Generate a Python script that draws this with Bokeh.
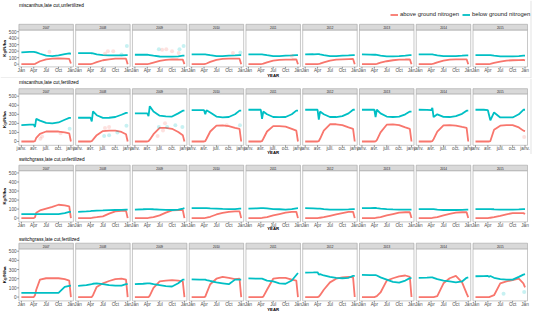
import math
from bokeh.plotting import figure
from bokeh.layouts import column
from bokeh.models import ColumnDataSource, Legend, LegendItem, Range1d
from bokeh.core.properties import value
from bokeh.embed import file_html
from bokeh.resources import INLINE

# ---------------- data ----------------
YEARS = [2007, 2008, 2009, 2010, 2011, 2012, 2013, 2014, 2015]
MONTHS = [0, 2, 3, 3.3, 3.6, 4.5, 6, 7.5, 9, 10.5, 11.6, 12]
TICK_MONTHS = [0, 3, 6, 9, 12]
TICKS_EN = ["Jan", "Apr", "Jul", "Oct", "Jan"]
TICKS_FR = ["janv.", "avr.", "juil.", "oct.", "janv."]
Y_TICKS = [0, 100, 200, 300, 400, 500]
TITLES = ["miscanthus,late cut,unfertilized", "miscanthus,late cut,fertilized",
          "switchgrass,late cut,unfertilized", "switchgrass,late cut,fertilized"]
SERIES = ["above ground nitrogen", "below ground nitrogen"]
X_LABEL = "YEAR"
Y_LABEL = "Kg/N/ha"

# miscanthus, late cut, unfertilized
MUF_ABOVE = [
    [0, 0, 0, 5, 15, 45, 75, 85, 90, 85, 80, 10],
    [0, 0, 0, 3, 10, 30, 60, 75, 85, 85, 85, 0],
    [0, 0, 0, 3, 8, 25, 50, 65, 75, 72, 70, 0],
    [0, 0, 0, 3, 10, 35, 65, 80, 85, 85, 85, 0],
    [0, 0, 0, 3, 8, 28, 55, 65, 70, 72, 75, 0],
    [0, 0, 0, 3, 8, 28, 55, 70, 75, 78, 80, 0],
    [0, 0, 0, 2, 6, 22, 45, 60, 70, 72, 75, 0],
    [0, 0, 0, 3, 8, 28, 55, 70, 75, 75, 75, 0],
    [0, 0, 0, 2, 6, 20, 40, 55, 60, 63, 65, 60],
]
MUF_BELOW = [
    [180, 190, 190, 185, 180, 160, 130, 125, 135, 155, 165, 160],
    [170, 170, 170, 168, 165, 150, 140, 135, 135, 135, 140, 140],
    [145, 145, 145, 143, 140, 130, 118, 115, 115, 120, 130, 130],
    [150, 150, 150, 150, 148, 138, 125, 125, 130, 135, 140, 140],
    [150, 150, 150, 150, 148, 138, 125, 125, 130, 135, 140, 140],
    [150, 152, 155, 155, 150, 140, 125, 125, 130, 135, 140, 140],
    [150, 148, 145, 145, 142, 132, 120, 120, 125, 132, 140, 140],
    [150, 150, 150, 150, 145, 135, 125, 125, 125, 130, 135, 135],
    [140, 140, 140, 140, 138, 130, 120, 120, 120, 125, 130, 130],
]
MUF_OBS_YEAR = [2007, 2008, 2008, 2008, 2008, 2008, 2009, 2009, 2009, 2009, 2009, 2009, 2009, 2010, 2010, 2011]
MUF_OBS_MONTH = [6.8, 6.5, 7.2, 8.5, 10.5, 11.8, 5.8, 10.8, 11.8, 6.6, 7.6, 9.0, 10.6, 10.0, 11.8, 10.5]
MUF_OBS_VALUE = [190, 160, 200, 200, 150, 280, 230, 230, 280, 220, 230, 200, 170, 170, 180, 130]
MUF_OBS_KIND = ["above", "above", "above", "above", "below", "below", "below", "below", "below",
                "above", "above", "above", "above", "above", "below", "above"]

# miscanthus, late cut, fertilized
MF_ABOVE = [
    [0, 0, 0, 5, 40, 85, 110, 110, 110, 100, 90, 0],
    [0, 0, 0, 5, 20, 70, 115, 120, 120, 105, 80, 0],
    [0, 0, 0, 5, 20, 80, 150, 150, 140, 105, 70, 0],
    [0, 0, 0, 5, 30, 110, 175, 177, 170, 150, 140, 0],
    [0, 0, 0, 5, 30, 110, 170, 170, 165, 140, 120, 0],
    [0, 0, 0, 5, 30, 120, 190, 190, 180, 155, 140, 0],
    [0, 0, 0, 2, 15, 100, 185, 188, 180, 155, 140, 0],
    [0, 0, 0, 5, 25, 110, 178, 180, 175, 160, 150, 0],
    [0, 0, 0, 0, 5, 130, 175, 180, 180, 155, 120, 115],
]
MF_BELOW = [
    [180, 185, 187, 160, 250, 230, 205, 200, 210, 240, 260, 260],
    [262, 262, 262, 222, 333, 290, 260, 262, 270, 295, 315, 315],
    [310, 310, 310, 280, 390, 330, 285, 278, 275, 310, 340, 340],
    [345, 345, 345, 300, 345, 320, 275, 265, 270, 300, 340, 340],
    [350, 350, 350, 250, 330, 300, 270, 268, 270, 300, 340, 340],
    [350, 350, 350, 240, 330, 300, 270, 270, 280, 310, 350, 350],
    [350, 350, 350, 270, 350, 310, 275, 270, 275, 300, 330, 330],
    [350, 348, 345, 370, 270, 300, 272, 270, 280, 305, 340, 340],
    [350, 350, 345, 290, 233, 320, 265, 265, 265, 300, 350, 350],
]
MF_OBS_YEAR = [2007, 2007, 2007, 2007, 2008, 2008, 2008, 2008, 2008, 2008,
               2009, 2009, 2009, 2009, 2009, 2009, 2009, 2010, 2010, 2015]
MF_OBS_MONTH = [4.6, 5.0, 9.5, 11.7, 6.5, 7.5, 6.3, 7.5, 9.5, 11.7,
                5.8, 7.8, 9.8, 11.5, 6.8, 7.3, 5.5, 8.5, 11.7, 11.8]
MF_OBS_VALUE = [30, 55, 90, 140, 150, 160, 60, 70, 100, 175,
                160, 160, 180, 160, 120, 200, 60, 180, 180, 50]
MF_OBS_KIND = ["above", "above", "above", "below", "above", "above", "below", "below", "below", "below",
               "below", "below", "below", "below", "above", "above", "above", "above", "below", "above"]

# switchgrass, late cut, unfertilized
SUF_ABOVE = [
    [0, 0, 0, 10, 60, 85, 105, 125, 148, 140, 130, 0],
    [0, 0, 0, 2, 5, 10, 20, 50, 75, 80, 80, 0],
    [0, 0, 0, 2, 5, 10, 30, 60, 85, 90, 90, 0],
    [0, 0, 0, 2, 5, 15, 40, 58, 70, 75, 75, 0],
    [0, 0, 0, 2, 5, 12, 30, 45, 60, 68, 70, 0],
    [0, 0, 0, 2, 4, 10, 25, 40, 55, 68, 70, 0],
    [0, 0, 0, 2, 5, 12, 30, 45, 60, 65, 65, 0],
    [0, 0, 0, 2, 5, 12, 30, 48, 60, 65, 65, 0],
    [0, 0, 0, 2, 4, 10, 25, 42, 55, 55, 55, 45],
]
SUF_BELOW = [
    [45, 45, 45, 45, 45, 45, 45, 45, 45, 55, 68, 70],
    [70, 75, 78, 80, 80, 83, 85, 88, 90, 92, 95, 95],
    [95, 98, 100, 100, 100, 98, 95, 92, 90, 95, 105, 110],
    [110, 110, 110, 110, 110, 108, 105, 102, 100, 100, 105, 105],
    [105, 108, 110, 110, 110, 108, 100, 98, 95, 100, 108, 110],
    [110, 108, 105, 105, 105, 100, 95, 95, 95, 97, 100, 100],
    [110, 111, 112, 112, 110, 105, 100, 97, 95, 95, 95, 95],
    [100, 100, 100, 100, 100, 95, 90, 90, 90, 92, 95, 95],
    [100, 100, 100, 100, 100, 98, 95, 95, 95, 97, 100, 100],
]
SUF_OBS_YEAR = []
SUF_OBS_MONTH = []
SUF_OBS_VALUE = []
SUF_OBS_KIND = []

# switchgrass, late cut, fertilized
SF_ABOVE = [
    [0, 0, 0, 20, 80, 190, 205, 205, 205, 195, 180, 0],
    [0, 0, 0, 0, 20, 110, 150, 175, 195, 200, 190, 0],
    [0, 0, 0, 0, 15, 100, 170, 180, 185, 180, 170, 0],
    [0, 0, 0, 5, 40, 140, 200, 220, 210, 195, 200, 0],
    [0, 0, 0, 0, 5, 80, 200, 210, 210, 190, 180, 0],
    [0, 0, 0, 5, 20, 80, 160, 200, 215, 220, 215, 0],
    [0, 0, 0, 5, 10, 50, 180, 205, 225, 235, 220, 0],
    [0, 0, 0, 0, 0, 10, 150, 205, 230, 160, 40, 0],
    [0, 0, 0, 0, 5, 20, 150, 170, 185, 200, 150, 105],
]
SF_BELOW = [
    [45, 45, 45, 45, 45, 45, 45, 45, 45, 110, 122, 125],
    [122, 130, 138, 140, 145, 150, 140, 130, 125, 125, 140, 140],
    [140, 145, 150, 150, 150, 140, 130, 120, 115, 150, 190, 190],
    [192, 190, 190, 190, 185, 175, 160, 150, 140, 190, 190, 190],
    [203, 200, 200, 200, 195, 180, 170, 150, 145, 180, 240, 262],
    [266, 268, 270, 245, 250, 235, 220, 210, 205, 210, 230, 230],
    [241, 240, 240, 240, 235, 215, 190, 165, 157, 180, 206, 206],
    [210, 212, 215, 215, 210, 195, 180, 170, 160, 170, 210, 215],
    [227, 228, 230, 220, 230, 210, 195, 190, 190, 220, 245, 250],
]
SF_OBS_YEAR = [2015, 2015]
SF_OBS_MONTH = [6.8, 11.8]
SF_OBS_VALUE = [35, 55]
SF_OBS_KIND = ["below", "below"]

# ---------------- styling / layout ----------------
RED = "#F8766D"
CYAN = "#00BFC4"
FONT = "Liberation Sans"
BORDER = "#a3a3a3"
FRAME_LINE = "#e3e3e3"
PITCH = 13.75          # spacing between yearly facets, in month units
XPAD = 0.6             # facet expansion, in month units
Y0, Y1 = -42, 525      # facet y limits
W = 534
PANEL_L_PX, PANEL_R_PX = 18.4, 527.0
UX = (8 * PITCH + 12 + 2 * XPAD) / (PANEL_R_PX - PANEL_L_PX)
X_START = -XPAD - PANEL_L_PX * UX
X_END = X_START + W * UX


def xd(px):
    return X_START + px * UX


def make_block(title, above, below, obs, tick_labels, H, pt, pb, title_py, strip_h,
               xlab_py, year_py, legend_py=None, frame_right=False, frame_bottom=False):
    uy = (Y1 - Y0) / (pb - pt)
    y_end = Y1 + pt * uy
    y_start = y_end - H * uy

    def yd(py):
        return y_end - py * uy

    p = figure(width=W, height=H, output_backend="svg", toolbar_location=None,
               x_range=Range1d(X_START, X_END), y_range=Range1d(y_start, y_end),
               x_axis_location=None, y_axis_location=None, min_border=0)
    p.outline_line_color = None
    p.grid.visible = False
    p.background_fill_color = "white"
    p.border_fill_color = "white"

    # faint outline of the original sub-image
    if frame_right:
        p.segment(x0=[xd(530.5)], x1=[xd(530.5)], y0=[y_start], y1=[y_end],
                  line_color=FRAME_LINE, line_width=1)
    if frame_bottom:
        p.segment(x0=[X_START], x1=[xd(530.5)], y0=[yd(H - 0.6)], y1=[yd(H - 0.6)],
                  line_color=FRAME_LINE, line_width=1)

    offs = [k * PITCH for k in range(len(YEARS))]
    lefts = [o - XPAD for o in offs]
    rights = [o + 12 + XPAD for o in offs]
    # panels and strips
    p.quad(left=lefts, right=rights, bottom=Y0, top=Y1, fill_color="white",
           line_color=BORDER, line_width=0.6)
    strip_top = yd(pt - strip_h)
    p.quad(left=lefts, right=rights, bottom=Y1, top=strip_top, fill_color="#d9d9d9",
           line_color=BORDER, line_width=0.6)
    p.text(x=[o + 6 for o in offs], y=(Y1 + strip_top) / 2, text=[str(y) for y in YEARS],
           text_font=value(FONT), text_font_size="3px", text_color="#1a1a1a",
           text_align="center", text_baseline="middle")

    # x ticks and labels
    tx, tl = [], []
    for o in offs:
        for m, lab in zip(TICK_MONTHS, tick_labels):
            tx.append(o + m)
            tl.append(lab)
    p.segment(x0=tx, x1=tx, y0=Y0, y1=yd(pb + 1.8), line_color="#333333", line_width=0.5)
    p.text(x=tx, y=yd(xlab_py), text=tl, text_font=value(FONT), text_font_size="4.7px",
           text_color="#4d4d4d", text_align="center", text_baseline="middle")
    # y ticks and labels (first facet only)
    p.segment(x0=xd(PANEL_L_PX - 1.8), x1=-XPAD, y0=Y_TICKS, y1=Y_TICKS,
              line_color="#333333", line_width=0.5)
    p.text(x=xd(PANEL_L_PX - 2.3), y=Y_TICKS, text=[str(v) for v in Y_TICKS],
           text_font=value(FONT), text_font_size="4.7px", text_color="#4d4d4d",
           text_align="right", text_baseline="middle")
    # axis titles
    p.text(x=xd(4.2), y=(Y0 + Y1) / 2, text=[Y_LABEL], angle=math.pi / 2,
           text_font=value(FONT), text_font_size="4.4px", text_font_style="bold",
           text_color="black", text_align="center", text_baseline="middle")
    p.text(x=(lefts[0] + rights[-1]) / 2, y=yd(year_py), text=[X_LABEL],
           text_font=value(FONT), text_font_size="4.3px", text_font_style="bold",
           text_color="black", text_align="center", text_baseline="middle")
    # block title
    p.text(x=lefts[0], y=yd(title_py), text=[title], text_font=value(FONT),
           text_font_size="4.75px", text_color="black", text_align="left",
           text_baseline="middle")

    # data
    xs = [[o + m for m in MONTHS] for o in offs]
    r_a = p.multi_line(xs=xs, ys=above, line_color=RED, line_width=1.8)
    r_b = p.multi_line(xs=xs, ys=below, line_color=CYAN, line_width=1.8)

    oy, om, ov, ok = obs
    if oy:
        src = ColumnDataSource(dict(
            x=[YEARS.index(y) * PITCH + m for y, m in zip(oy, om)],
            y=ov,
            c=[RED if k == "above" else CYAN for k in ok]))
        p.scatter(x="x", y="y", source=src, size=4, fill_color="c", fill_alpha=0.22,
                  line_color=None)

    if legend_py is not None:
        lg = Legend(items=[LegendItem(label=SERIES[0], renderers=[r_a]),
                           LegendItem(label=SERIES[1], renderers=[r_b])],
                    orientation="horizontal", location=(390, H - legend_py - 3.5))
        lg.background_fill_alpha = 0
        lg.border_line_alpha = 0
        lg.label_text_font = FONT
        lg.label_text_font_size = "5.9px"
        lg.label_text_color = "#1a1a1a"
        lg.label_text_baseline = "middle"
        lg.glyph_width = 8
        lg.glyph_height = 7
        lg.label_height = 7
        lg.label_standoff = 2
        lg.spacing = 3
        lg.padding = 0
        lg.margin = 0
        p.add_layout(lg)
    return p


p1 = make_block(TITLES[0], MUF_ABOVE, MUF_BELOW, (MUF_OBS_YEAR, MUF_OBS_MONTH, MUF_OBS_VALUE, MUF_OBS_KIND),
                TICKS_EN, H=78, pt=29.5, pb=66.4, title_py=4.8, strip_h=5.7,
                xlab_py=70.0, year_py=75.0, legend_py=14.3, frame_right=True, frame_bottom=True)
p2 = make_block(TITLES[1], MF_ABOVE, MF_BELOW, (MF_OBS_YEAR, MF_OBS_MONTH, MF_OBS_VALUE, MF_OBS_KIND),
                TICKS_FR, H=76, pt=15.4, pb=66.8, title_py=4.0, strip_h=5.2,
                xlab_py=70.0, year_py=73.9, frame_right=True)
p3 = make_block(TITLES[2], SUF_ABOVE, SUF_BELOW, (SUF_OBS_YEAR, SUF_OBS_MONTH, SUF_OBS_VALUE, SUF_OBS_KIND),
                TICKS_EN, H=76, pt=16.2, pb=67.4, title_py=5.2, strip_h=5.5,
                xlab_py=70.5, year_py=74.0)
p4 = make_block(TITLES[3], SF_ABOVE, SF_BELOW, (SF_OBS_YEAR, SF_OBS_MONTH, SF_OBS_VALUE, SF_OBS_KIND),
                TICKS_EN, H=83, pt=18.4, pb=70.4, title_py=8.6, strip_h=5.7,
                xlab_py=73.6, year_py=79.3)

layout = column(p1, p2, p3, p4, spacing=0)
open("out.html", "w").write(file_html(layout, INLINE))
